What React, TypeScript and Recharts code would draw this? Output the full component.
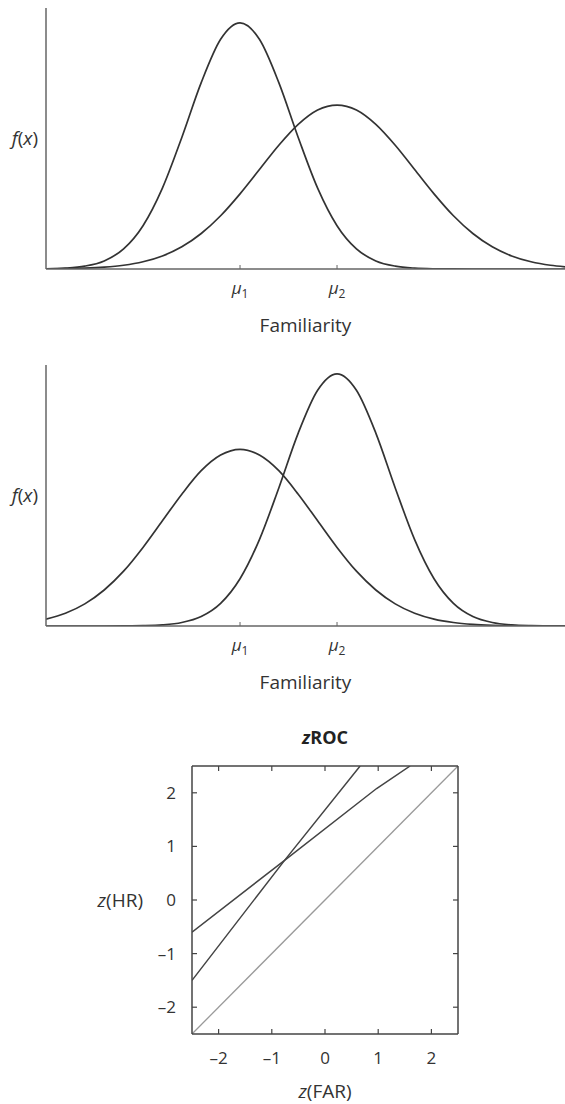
import React from 'react';
import { LineChart, Line, XAxis, YAxis, Label } from 'recharts';

// Familiarity axis samples (units: mu1 = 0, mu2 = 1)
const famX = [-2.0, -1.8, -1.6, -1.4, -1.2, -1.0, -0.8, -0.6, -0.4, -0.2, 0, 0.2, 0.4, 0.6, 0.8, 1.0, 1.2, 1.4, 1.6, 1.8, 2.0, 2.2, 2.4, 2.6, 2.8, 3.0, 3.2, 3.35];

// Panel 1: narrow old-item curve at mu1, wide new-item curve at mu2
const panel1Old = [0.0009, 0.0034, 0.011, 0.031, 0.077, 0.166, 0.31, 0.504, 0.714, 0.88, 0.943, 0.88, 0.714, 0.504, 0.31, 0.166, 0.077, 0.031, 0.011, 0.0034, 0.0009, 0.0002, 0, 0, 0, 0, 0, 0];
const panel1New = [0.0006, 0.0014, 0.0032, 0.007, 0.0143, 0.0276, 0.05, 0.085, 0.136, 0.204, 0.288, 0.381, 0.474, 0.554, 0.609, 0.628, 0.609, 0.554, 0.474, 0.381, 0.288, 0.204, 0.136, 0.085, 0.05, 0.0276, 0.0143, 0.0084];

// Panel 2: wide curve at mu1, narrow curve at mu2
const panel2Old = [0.0263, 0.0488, 0.0848, 0.138, 0.21, 0.301, 0.403, 0.505, 0.595, 0.655, 0.677, 0.655, 0.595, 0.505, 0.403, 0.301, 0.21, 0.138, 0.0848, 0.0488, 0.0263, 0.0133, 0.0063, 0.0028, 0.0012, 0.0005, 0.0002, 0.0001];
const panel2New = [0, 0, 0, 0, 0.0003, 0.0012, 0.0042, 0.0133, 0.0362, 0.0866, 0.181, 0.331, 0.529, 0.739, 0.903, 0.966, 0.903, 0.739, 0.529, 0.331, 0.181, 0.0866, 0.0362, 0.0133, 0.0042, 0.0012, 0.0003, 0.0001];

const muTicks = [0, 1];
const muSubs = ['1', '2'];

// zROC
const zTicks = [-2, -1, 0, 1, 2];
const zTickLabels = ['\u20132', '\u20131', '0', '1', '2'];
const chanceX = [-2.5, 2.5];
const chanceY = [-2.5, 2.5];
const rocAX = [-2.5, -0.76, 0.66];
const rocAY = [-1.5, 0.74, 2.5];
const rocBX = [-2.5, -0.76, 0.97, 1.6];
const rocBY = [-0.6, 0.74, 2.08, 2.5];

const FONT = '"Open Sans", "Noto Sans", sans-serif';
const INK = '#333';
const AXIS = '#666';

function MuTick(props: any) {
  const { x, y, payload } = props;
  const i = muTicks.indexOf(payload.value);
  return (
    <g>
      <line x1={x} y1={y} x2={x} y2={y - 4} stroke={AXIS} strokeWidth={1} />
      <text x={x} y={y + 25} textAnchor="middle" fontFamily={FONT} fill={INK}>
        <tspan fontStyle="italic" fontSize={17}>μ</tspan>
        <tspan fontSize={12} dy={4}>{muSubs[i]}</tspan>
      </text>
    </g>
  );
}

function famLabel(props: any) {
  const vb = props.viewBox;
  return (
    <text x={vb.x + vb.width / 2} y={vb.y + 56} dy="0.35em" textAnchor="middle" fontFamily={FONT} fontSize={19} fill={INK}>
      Familiarity
    </text>
  );
}

function fxLabel(props: any) {
  const vb = props.viewBox;
  return (
    <text x={vb.x + vb.width - 8} y={vb.y + vb.height / 2} dy="0.35em" textAnchor="end" fontFamily={FONT} fontSize={19} fill={INK}>
      <tspan fontStyle="italic">f</tspan>(<tspan fontStyle="italic">x</tspan>)
    </text>
  );
}

function DistPanel(p: { top: number; height: number; mt: number; mb: number; oldY: number[]; newY: number[] }) {
  const data = famX.map((x, i) => ({ x, a: p.oldY[i], b: p.newY[i] }));
  return (
    <div style={{ position: 'absolute', left: 0, top: p.top, width: 565, height: p.height }}>
      <LineChart width={565} height={p.height} data={data} margin={{ top: p.mt, right: 0, bottom: p.mb, left: 45 }}>
        <XAxis
          dataKey="x"
          type="number"
          domain={[-2.0, 3.35]}
          ticks={muTicks}
          interval={0}
          allowDataOverflow
          height={70}
          tickSize={0}
          tickMargin={0}
          tickLine={false}
          axisLine={{ stroke: AXIS, strokeWidth: 1.5 }}
          tick={(tp: any) => <MuTick {...tp} />}
        >
          <Label content={famLabel} />
        </XAxis>
        <YAxis
          type="number"
          domain={[0, 1]}
          allowDataOverflow
          width={1}
          tick={false}
          tickLine={false}
          axisLine={{ stroke: AXIS, strokeWidth: 1.5 }}
        >
          <Label content={fxLabel} />
        </YAxis>
        <Line dataKey="a" type="monotone" stroke="#333" strokeWidth={1.7} dot={false} isAnimationActive={false} />
        <Line dataKey="b" type="monotone" stroke="#333" strokeWidth={1.7} dot={false} isAnimationActive={false} />
      </LineChart>
    </div>
  );
}

function BottomTick(props: any) {
  const { x, y, payload } = props;
  const i = zTicks.indexOf(payload.value);
  return (
    <g>
      <line x1={x} y1={y} x2={x} y2={y - 5} stroke="#444" strokeWidth={1.2} />
      <text x={x} y={y + 24} dy="0.35em" textAnchor="middle" fontFamily={FONT} fontSize={17} fill={INK}>
        {zTickLabels[i]}
      </text>
    </g>
  );
}
function LeftTick(props: any) {
  const { x, y, payload } = props;
  const i = zTicks.indexOf(payload.value);
  return (
    <g>
      <line x1={x} y1={y} x2={x + 5} y2={y} stroke="#444" strokeWidth={1.2} />
      <text x={x - 16} y={y} dy="0.35em" textAnchor="end" fontFamily={FONT} fontSize={17} fill={INK}>
        {zTickLabels[i]}
      </text>
    </g>
  );
}
function TopTick(props: any) {
  const { x, y } = props;
  return <line x1={x} y1={y} x2={x} y2={y + 5} stroke="#444" strokeWidth={1.2} />;
}
function RightTick(props: any) {
  const { x, y } = props;
  return <line x1={x} y1={y} x2={x - 5} y2={y} stroke="#444" strokeWidth={1.2} />;
}

function titleLabel(props: any) {
  const vb = props.viewBox;
  return (
    <text x={vb.x + vb.width / 2} y={vb.y + vb.height - 28} dy="0.35em" textAnchor="middle" fontFamily={FONT} fontSize={18} fontWeight="bold" fill="#222">
      <tspan fontStyle="italic">z</tspan>ROC
    </text>
  );
}
function farLabel(props: any) {
  const vb = props.viewBox;
  return (
    <text x={vb.x + vb.width / 2} y={vb.y + 57} dy="0.35em" textAnchor="middle" fontFamily={FONT} fontSize={19} fill={INK}>
      <tspan fontStyle="italic">z</tspan>(FAR)
    </text>
  );
}
function hrLabel(props: any) {
  const vb = props.viewBox;
  return (
    <text x={vb.x + vb.width - 49} y={vb.y + vb.height / 2} dy="0.35em" textAnchor="end" fontFamily={FONT} fontSize={19} fill={INK}>
      <tspan fontStyle="italic">z</tspan>(HR)
    </text>
  );
}

function ZrocPanel() {
  const chance = chanceX.map((x, i) => ({ x, y: chanceY[i] }));
  const rocA = rocAX.map((x, i) => ({ x, y: rocAY[i] }));
  const rocB = rocBX.map((x, i) => ({ x, y: rocBY[i] }));
  const boxLine = { stroke: '#444', strokeWidth: 1.5 };
  return (
    <div style={{ position: 'absolute', left: 0, top: 706, width: 565, height: 398 }}>
      <LineChart width={565} height={398} margin={{ top: 59, right: 106, bottom: 0, left: 191 }}>
        <XAxis
          dataKey="x"
          type="number"
          domain={[-2.5, 2.5]}
          ticks={zTicks}
          interval={0}
          allowDataOverflow
          height={70}
          tickSize={0}
          tickMargin={0}
          tickLine={false}
          axisLine={boxLine}
          tick={(tp: any) => <BottomTick {...tp} />}
        >
          <Label content={farLabel} />
        </XAxis>
        <XAxis
          xAxisId="top"
          orientation="top"
          dataKey="x"
          type="number"
          domain={[-2.5, 2.5]}
          ticks={zTicks}
          interval={0}
          allowDataOverflow
          height={1}
          tickSize={0}
          tickMargin={0}
          tickLine={false}
          axisLine={boxLine}
          tick={(tp: any) => <TopTick {...tp} />}
        >
          <Label content={titleLabel} />
        </XAxis>
        <YAxis
          type="number"
          domain={[-2.5, 2.5]}
          ticks={zTicks}
          interval={0}
          allowDataOverflow
          width={1}
          tickSize={0}
          tickMargin={0}
          tickLine={false}
          axisLine={boxLine}
          tick={(tp: any) => <LeftTick {...tp} />}
        >
          <Label content={hrLabel} />
        </YAxis>
        <YAxis
          yAxisId="right"
          orientation="right"
          type="number"
          domain={[-2.5, 2.5]}
          ticks={zTicks}
          interval={0}
          allowDataOverflow
          width={1}
          tickSize={0}
          tickMargin={0}
          tickLine={false}
          axisLine={boxLine}
          tick={(tp: any) => <RightTick {...tp} />}
        />
        <Line data={chance} dataKey="y" type="linear" stroke="#9a9a9a" strokeWidth={1.3} dot={false} isAnimationActive={false} />
        <Line data={rocA} dataKey="y" type="linear" stroke="#444" strokeWidth={1.5} dot={false} isAnimationActive={false} />
        <Line data={rocB} dataKey="y" type="linear" stroke="#444" strokeWidth={1.5} dot={false} isAnimationActive={false} />
      </LineChart>
    </div>
  );
}

export default function App() {
  return (
    <div style={{ position: 'absolute', left: 0, top: 0, width: 565, height: 1104, background: '#fff' }}>
      <DistPanel top={0} height={350} mt={8} mb={11} oldY={panel1Old} newY={panel1New} />
      <DistPanel top={350} height={356} mt={15} mb={10} oldY={panel2Old} newY={panel2New} />
      <ZrocPanel />
    </div>
  );
}
